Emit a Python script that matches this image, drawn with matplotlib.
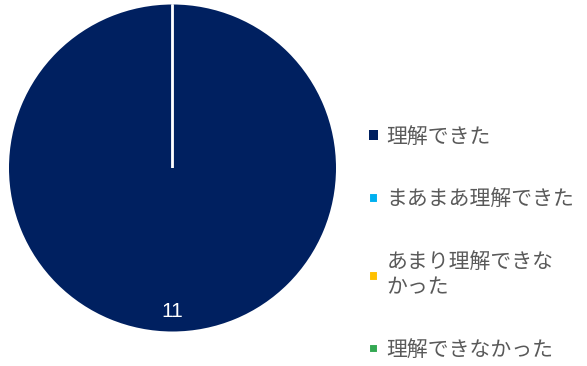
import matplotlib
matplotlib.use("Agg")
import matplotlib.pyplot as plt

plt.rcParams['font.family'] = ['Noto Sans CJK JP', 'DejaVu Sans']

labels = ['理解できた', 'まあまあ理解できた', 'あまり理解できな\nかった', '理解できなかった']
counts = [11, 0, 0, 0]
colors = ['#002060', '#00B0F0', '#FFC000', '#33A852']

fig = plt.figure(figsize=(5.87, 3.66), dpi=100)
ax = fig.add_axes([9 / 587, 34.5 / 366, 327 / 587, 327 / 366])

total = sum(counts)
wedges, texts, autotexts = ax.pie(
    counts, colors=colors, startangle=90, counterclock=False,
    autopct=lambda p: f'{p * total / 100:.0f}' if p > 0 else '',
    pctdistance=0.88,
    wedgeprops=dict(edgecolor='white', linewidth=1.5),
    textprops=dict(color='white', fontsize=15, family=['Liberation Sans', 'DejaVu Sans']),
)
wedges[0].set_edgecolor('none')
ax.set_xlim(-1, 1)
ax.set_ylim(-1, 1)
ax.set_aspect('equal')

fig.legend(wedges, labels, loc='center left', bbox_to_anchor=(350 / 587, 0.335),
           frameon=False, fontsize=15, labelcolor='#595959',
           handlelength=0.45, handleheight=0.35, handletextpad=0.4,
           labelspacing=1.95)

fig.savefig('out.png', dpi=100)
